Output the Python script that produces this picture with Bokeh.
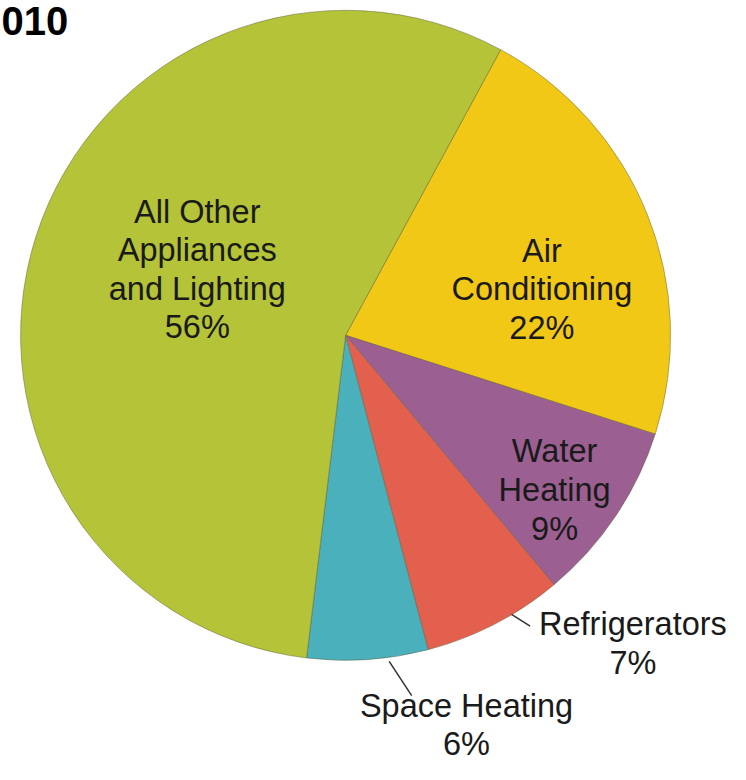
from bokeh.plotting import figure
from bokeh.models import Range1d
from bokeh.core.properties import value
from bokeh.embed import file_html
from bokeh.resources import INLINE
import math

# ---- data ----
categories = ["Air\nConditioning", "Water\nHeating", "Refrigerators", "Space Heating",
              "All Other\nAppliances\nand Lighting"]
shares = [22, 9, 7, 6, 56]
colors = ["#f2c816", "#9b5f91", "#e4604e", "#4ab0bb", "#b4c337"]
title_text = "010"

# ---- layout (reference pixel coordinates, scaled to fit) ----
W, H = 730, 764
S = 0.979
def X(px):
    return px * S
def Y(py):
    return H - py * S

cx, cy, R = 352.5, 342, 332
start_cw = 28.5  # degrees clockwise from 12 o'clock

label_px = [(553, 295), (566, 500), (646, 657), (476, 740), (201, 275)]

p = figure(width=W, height=H, output_backend="svg", toolbar_location=None,
           x_range=Range1d(0, W), y_range=Range1d(0, H), min_border=0)
p.axis.visible = False
p.grid.visible = False
p.outline_line_color = None
p.background_fill_color = "white"

total = sum(shares)
starts, ends = [], []
acc = start_cw
for s in shares:
    a0 = acc
    a1 = acc + 360.0 * s / total
    starts.append(math.radians(90 - a0))
    ends.append(math.radians(90 - a1))
    acc = a1

p.wedge(x=[X(cx)] * len(shares), y=[Y(cy)] * len(shares), radius=R * S,
        start_angle=starts, end_angle=ends, direction="clock",
        fill_color=colors, line_color="#5a5a3a", line_alpha=0.45, line_width=1)

# leader lines for outside labels
p.segment(x0=[X(522), X(397)], y0=[Y(627), Y(675)],
          x1=[X(541), X(420)], y1=[Y(639), Y(710)],
          line_color="#333333", line_width=1.5)

texts = [f"{c}\n{s}%" for c, s in zip(categories, shares)]
p.text(x=[X(a) for a, b in label_px], y=[Y(b) for a, b in label_px], text=texts,
       text_font=value("Liberation Sans"), text_font_size="32.5px",
       text_color="#1a1a1a", text_align="center", text_baseline="middle",
       text_line_height=1.07)

p.text(x=[X(0) + 1], y=[Y(21)], text=[title_text],
       text_font=value("Liberation Sans"), text_font_size="40px",
       text_font_style="bold", text_color="#000000",
       text_align="left", text_baseline="alphabetic")

open("out.html", "w").write(file_html(p, INLINE))
